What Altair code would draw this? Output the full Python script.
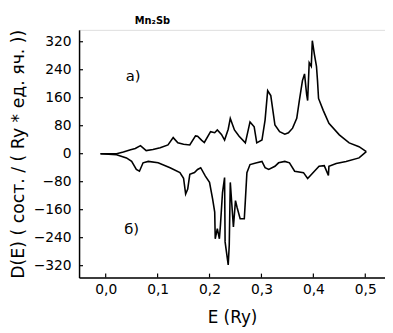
import altair as alt
import pandas as pd

# spin-up DOS (upper curve, a)
up_E = [-0.01, 0.021, 0.034, 0.048, 0.057, 0.067, 0.078, 0.091, 0.105, 0.12, 0.13, 0.139, 0.15, 0.162,
        0.173, 0.177, 0.185, 0.19, 0.202, 0.21, 0.215, 0.223, 0.229, 0.236, 0.24, 0.248, 0.257, 0.269,
        0.278, 0.286, 0.291, 0.301, 0.307, 0.312, 0.318, 0.326, 0.335, 0.345, 0.352, 0.36, 0.368, 0.373,
        0.379, 0.383, 0.387, 0.389, 0.392, 0.396, 0.398, 0.402, 0.406, 0.408, 0.41, 0.419, 0.43, 0.45,
        0.469, 0.488, 0.502]
up_D = [0, 0, 5, 11, 15, 23, 9, 12, 17, 25, 46, 31, 27, 25, 51, 50, 38, 32, 63, 60, 68, 55, 39, 70, 101,
        68, 50, 31, 91, 77, 31, 39, 96, 180, 166, 82, 63, 56, 60, 73, 101, 152, 209, 228, 170, 152, 260,
        250, 323, 284, 250, 209, 158, 124, 87, 54, 31, 20, 6]

# spin-down DOS (lower curve, б)
dn_E = [-0.01, 0.021, 0.04, 0.05, 0.059, 0.065, 0.072, 0.082, 0.101, 0.124, 0.143, 0.15, 0.154, 0.158,
        0.162, 0.171, 0.177, 0.183, 0.192, 0.2, 0.206, 0.21, 0.211, 0.215, 0.219, 0.221, 0.225, 0.229,
        0.23, 0.236, 0.238, 0.24, 0.246, 0.25, 0.253, 0.259, 0.267, 0.269, 0.272, 0.278, 0.291, 0.301,
        0.307, 0.314, 0.326, 0.333, 0.345, 0.354, 0.364, 0.381, 0.389, 0.402, 0.411, 0.421, 0.429, 0.43,
        0.444, 0.463, 0.488, 0.502]
dn_D = [0, -3, -12, -22, -45, -50, -26, -22, -26, -40, -54, -70, -115, -101, -59, -54, -45, -40, -64, -82,
        -130, -167, -243, -214, -243, -205, -111, -68, -252, -318, -261, -82, -209, -134, -153, -186, -186,
        -134, -54, -31, -26, -22, -40, -45, -36, -26, -22, -26, -50, -54, -71, -50, -36, -34, -62, -36,
        -28, -22, -12, 6]

x_ticks = [0.0, 0.1, 0.2, 0.3, 0.4, 0.5]
y_ticks = [-320, -240, -160, -80, 0, 80, 160, 240, 320]

labels_text = ["а)", "б)"]
labels_E = [0.053, 0.05]
labels_D = [223, -214]

rows = []
for i, (e, d) in enumerate(zip(up_E, up_D)):
    rows.append({"E": e, "D": d, "s": "up", "i": i})
for i, (e, d) in enumerate(zip(dn_E, dn_D)):
    rows.append({"E": e, "D": d, "s": "down", "i": i})
df = pd.DataFrame(rows)

W, H = 310, 251
FONT = "DejaVu Sans"
xs = alt.Scale(domain=[-0.0513, 0.538], nice=False, zero=False)
ys = alt.Scale(domain=[-354, 354], nice=False, zero=False)
XT = "E (Ry)"
YT = "D(E) ( сост. / ( Ry * ед. яч. ))"

X_AX = alt.Axis(values=x_ticks, format=".1f", labelExpr="replace(datum.label, '.', ',')",
                ticks=False, grid=False, domainColor="black", domainWidth=1.5,
                labelOverlap=False,
                labelFont=FONT, labelFontSize=14, labelColor="black", labelPadding=5,
                titleFont=FONT, titleFontSize=17, titleFontWeight="normal", titleColor="black",
                titlePadding=14)
Y_AX = alt.Axis(values=y_ticks, ticks=False, grid=False, domainColor="black", domainWidth=1.5,
                labelOverlap=False,
                labelFont=FONT, labelFontSize=14, labelColor="black", labelPadding=8,
                titleFont=FONT, titleFontSize=17.5, titleFontWeight="normal", titleColor="black",
                titlePadding=6)

lines = alt.Chart(df).mark_line(color="black", strokeWidth=1.6, interpolate="linear").encode(
    x=alt.X("E:Q", scale=xs, title=XT, axis=X_AX),
    y=alt.Y("D:Q", scale=ys, title=YT, axis=Y_AX),
    detail="s:N",
    order="i:Q",
)

yt = alt.Chart(pd.DataFrame({"v": y_ticks})).mark_rule(color="black", strokeWidth=1.2).encode(
    y=alt.Y("v:Q", scale=ys, title=YT, axis=Y_AX), x=alt.value(0), x2=alt.value(4))
xt = alt.Chart(pd.DataFrame({"v": x_ticks})).mark_rule(color="black", strokeWidth=1.2).encode(
    x=alt.X("v:Q", scale=xs, title=XT, axis=X_AX), y=alt.value(H), y2=alt.value(H - 4))

lab = alt.Chart(pd.DataFrame({"t": labels_text, "E": labels_E, "D": labels_D})).mark_text(
    font=FONT, fontSize=15, color="black").encode(
    x=alt.X("E:Q", scale=xs, title=XT, axis=X_AX), y=alt.Y("D:Q", scale=ys, title=YT, axis=Y_AX),
    text="t:N")

ttl = alt.Chart(pd.DataFrame({"t": ["Mn₂Sb"], "E": [0.09]})).mark_text(
    font=FONT, fontSize=10, fontWeight="bold", color="black").encode(
    x=alt.X("E:Q", scale=xs, title=XT, axis=X_AX), y=alt.value(-9), text="t:N")

chart = alt.layer(lines, yt, xt, lab, ttl).properties(
    width=W, height=H,
    autosize=alt.AutoSizeParams(type="none"),
    padding={"left": 72, "top": 20, "right": 0, "bottom": 52},
).configure_view(stroke=None).configure(background="white")

chart.save("out.html", embed_options={"renderer": "svg", "actions": False})
